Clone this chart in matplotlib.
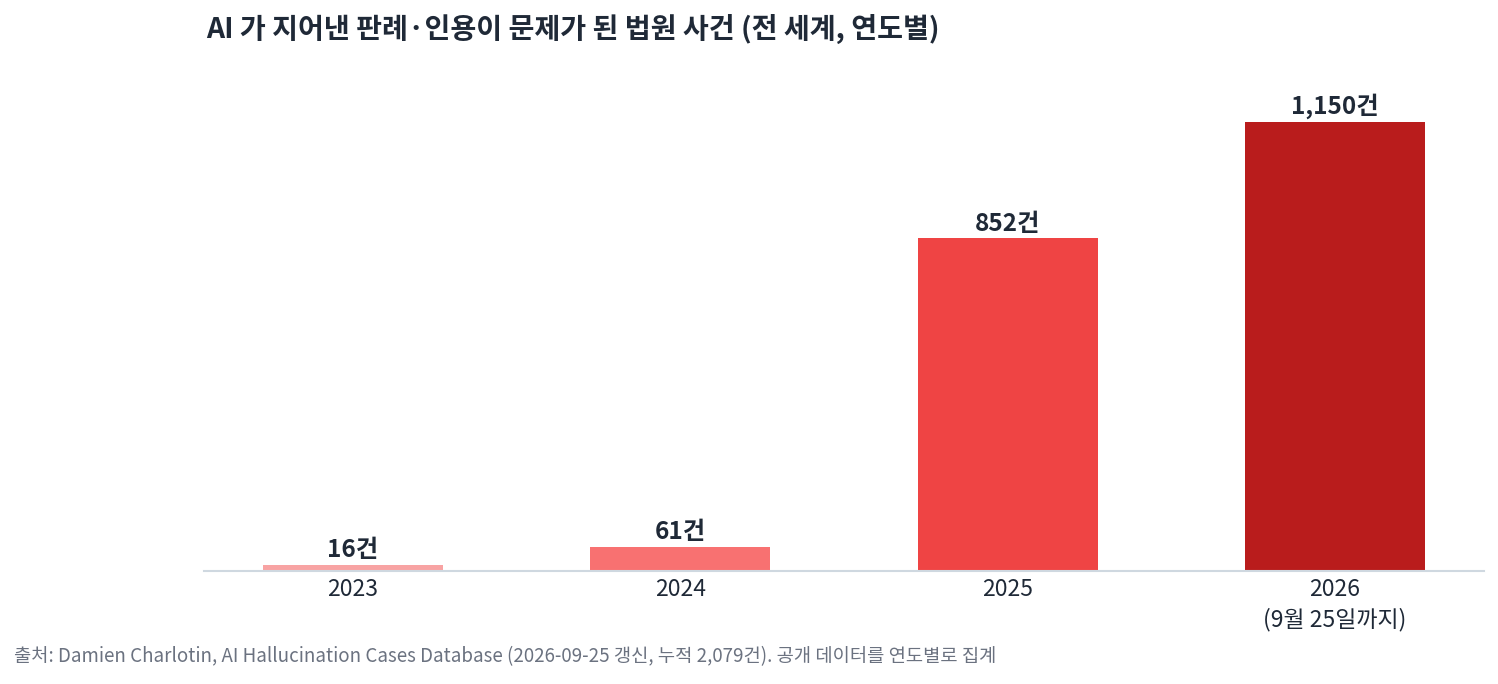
import matplotlib
matplotlib.use("Agg")
import matplotlib.pyplot as plt

plt.rcParams['font.family'] = ['Noto Sans CJK KR', 'DejaVu Sans']

years = ["2023", "2024", "2025", "2026\n(9월 25일까지)"]
cases = [16, 61, 852, 1150]
labels = ["16건", "61건", "852건", "1,150건"]
colors = ["#f8a3a3", "#f87171", "#ef4444", "#b91c1c"]

title = "AI 가 지어낸 판례·인용이 문제가 된 법원 사건 (전 세계, 연도별)"
source = "출처: Damien Charlotin, AI Hallucination Cases Database (2026-09-25 갱신, 누적 2,079건). 공개 데이터를 연도별로 집계"

W, H = 1498, 684
fig = plt.figure(figsize=(W / 100, H / 100), dpi=100)
left, right, bottom, top = 204, 1484, 571, 80
ax = fig.add_axes([left / W, 1 - bottom / H, (right - left) / W, (bottom - top) / H])

x = list(range(len(years)))
ax.bar(x, cases, width=0.55, color=colors, zorder=2)
ax.set_xlim(-0.455, 3.455)
ax.set_ylim(0, 1150 * (bottom - top) / 449)

for xi, v, lab in zip(x, cases, labels):
    ax.annotate(lab, (xi, v), xytext=(0, 2), textcoords="offset points",
                ha="center", va="bottom", fontsize=17.5, fontweight="bold", color="#1f2937")

ax.set_xticks(x)
ax.set_xticklabels(years, fontsize=16.5, color="#1f2937", linespacing=1.35)
ax.tick_params(axis="x", length=0, pad=5)
ax.set_yticks([])
for s in ["top", "right", "left"]:
    ax.spines[s].set_visible(False)
ax.spines["bottom"].set_color("#cfd8e0")
ax.spines["bottom"].set_linewidth(1.5)

fig.text(206 / W, 1 - 29 / H, title, fontsize=20.3, fontweight="bold", color="#1f2937",
         ha="left", va="center")
fig.text(14 / W, 1 - 657 / H, source, fontsize=13.5, color="#6b7280", ha="left", va="center")

fig.savefig("out.png", dpi=100)
